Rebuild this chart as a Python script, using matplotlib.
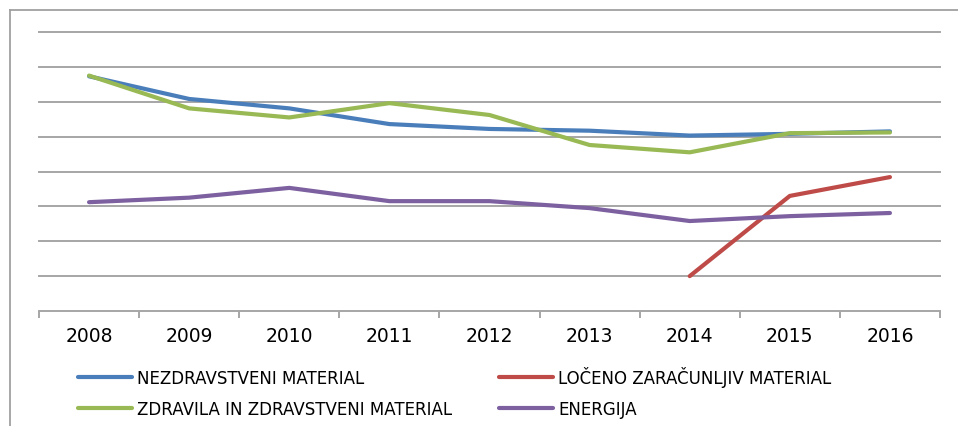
import matplotlib
matplotlib.use("Agg")
import matplotlib.pyplot as plt
import numpy as np

years = ["2008", "2009", "2010", "2011", "2012", "2013", "2014", "2015", "2016"]
nezdravstveni = [6.73, 6.08, 5.81, 5.36, 5.22, 5.17, 5.03, 5.08, 5.15]
loceno = [None, None, None, None, None, None, 1.00, 3.30, 3.84]
zdravila = [6.75, 5.81, 5.55, 5.96, 5.62, 4.76, 4.55, 5.10, 5.12]
energija = [3.12, 3.25, 3.53, 3.15, 3.15, 2.95, 2.58, 2.72, 2.81]

W, H = 958, 427
fig = plt.figure(figsize=(W / 100, H / 100), dpi=100)
ax = fig.add_axes([39 / W, (H - 312) / H, 901 / W, 279 / H])

x = np.arange(len(years))
red = np.array([np.nan if v is None else v for v in loceno], dtype=float)

l1, = ax.plot(x, nezdravstveni, color="#4A7EBB", lw=3, solid_capstyle="round", label="NEZDRAVSTVENI MATERIAL")
l2, = ax.plot(x, red, color="#BE4B48", lw=3, solid_capstyle="round", label="LOČENO ZARAČUNLJIV MATERIAL")
l3, = ax.plot(x, zdravila, color="#98B954", lw=3, solid_capstyle="round", label="ZDRAVILA IN ZDRAVSTVENI MATERIAL")
l4, = ax.plot(x, energija, color="#7D60A0", lw=3, solid_capstyle="round", label="ENERGIJA")

ax.set_xlim(-0.5, len(years) - 0.5)
ax.set_ylim(0, 8)
ax.set_yticks(np.arange(1, 9))
ax.yaxis.grid(True, color="#A6A6A6", lw=1.4)
for gl in ax.get_ygridlines():
    gl.set_clip_on(False)
ax.set_axisbelow(True)
ax.tick_params(axis="y", left=False, labelleft=False)

ax.set_xticks(x)
ax.set_xticklabels(years, fontsize=13.5)
ax.set_xticks(np.arange(-0.5, len(years)), minor=True)
ax.tick_params(axis="x", which="major", length=0, pad=11)
ax.tick_params(axis="x", which="minor", length=5, color="#A6A6A6", width=1.4, direction="out")

for s in ["left", "right", "top"]:
    ax.spines[s].set_visible(False)
ax.spines["bottom"].set_color("#A6A6A6")
ax.spines["bottom"].set_linewidth(1.4)

# outer chart frame
fig.add_artist(plt.Line2D([10 / W, 10 / W], [0, 1 - 11 / H], color="#A0A0A0", lw=1.3, transform=fig.transFigure))
fig.add_artist(plt.Line2D([10 / W, 1], [1 - 11 / H, 1 - 11 / H], color="#A0A0A0", lw=1.3, transform=fig.transFigure))

fig.legend(handles=[l1, l3, l2, l4], ncol=2, loc="upper left",
           bbox_to_anchor=(78 / W, 1 - 367 / H), frameon=False,
           fontsize=12, borderpad=0, borderaxespad=0, handlelength=3.25,
           handletextpad=0.3, labelspacing=0.78, columnspacing=2.8)

fig.savefig("out.png", dpi=100)
